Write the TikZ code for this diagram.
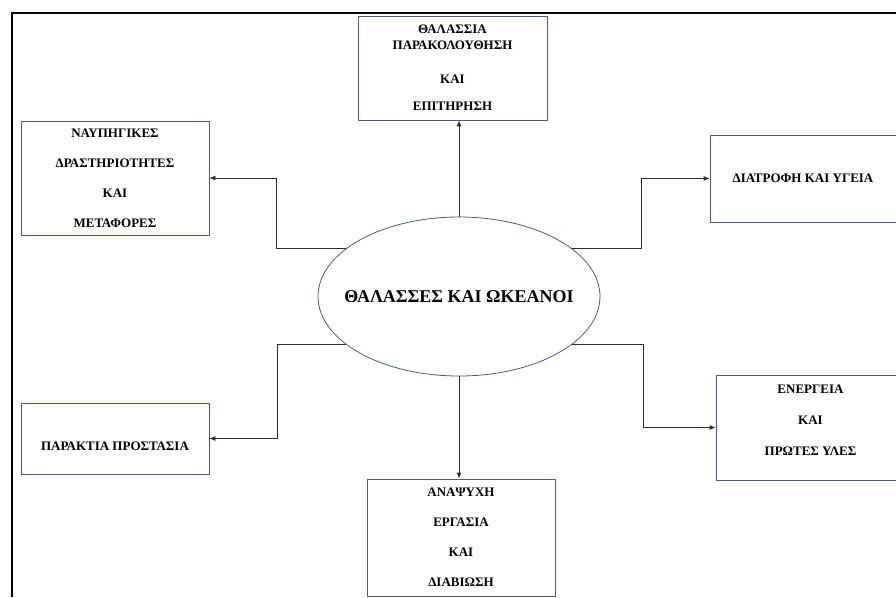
\documentclass[tikz,border=0pt]{standalone}
\usepackage{fontspec}
\setmainfont{Liberation Serif}
\usetikzlibrary{shapes.geometric,arrows.meta}
\definecolor{boxblue}{RGB}{68,94,140}
\definecolor{linegray}{RGB}{45,45,45}

\begin{document}
\begin{tikzpicture}[x=1pt,y=-1pt,
    topic/.style={rectangle,draw=boxblue,line width=0.8pt,inner sep=0pt},
    boxtext/.style={font=\bfseries\fontsize{13}{16}\selectfont,align=center,inner sep=0pt},
    link/.style={draw=linegray,line width=0.8pt,-{Latex[length=6pt,width=5pt]}}]

            \clip (0,0) rectangle (896,597);
            \draw[line width=2.5pt] (12,597) -- (12,13) -- (896,13);

            \node (ocean) at (459,296.5) [ellipse,draw=boxblue,line width=0.8pt,inner sep=0pt,minimum width=282pt,minimum height=159pt,font=\bfseries\fontsize{18}{20}\selectfont] {\makebox[0pt]{ΘΑΛΑΣΣΕΣ ΚΑΙ ΩΚΕΑΝΟΙ}};

            \node (monitor) at (452.5,68) [topic,minimum width=189pt,minimum height=104pt] {};
            \node (ship) at (115,178) [topic,minimum width=188pt,minimum height=114pt] {};
            \node (diet) at (807.5,178.5) [topic,minimum width=195pt,minimum height=87pt] {};
            \node (coast) at (115,438.5) [topic,minimum width=188pt,minimum height=71pt] {};
            \node (energy) at (810.5,427.5) [topic,minimum width=189pt,minimum height=105pt] {};
            \node (leisure) at (461,537.5) [topic,minimum width=188pt,minimum height=117pt] {};

            \node (monitortext) at (monitor.center) [boxtext] {ΘΑΛΑΣΣΙΑ\\ΠΑΡΑΚΟΛΟΥΘΗΣΗ\\[18pt]ΚΑΙ\\[11pt]ΕΠΙΤΗΡΗΣΗ};
            \node (shiptext) at (ship.center) [boxtext] {ΝΑΥΠΗΓΙΚΕΣ\\[14pt]ΔΡΑΣΤΗΡΙΟΤΗΤΕΣ\\[14pt]ΚΑΙ\\[14pt]ΜΕΤΑΦΟΡΕΣ};
            \node (diettext) at (diet.center) [boxtext,xshift=-4.5pt] {ΔΙΑΤΡΟΦΗ ΚΑΙ ΥΓΕΙΑ};
            \node (coasttext) at (coast.center) [boxtext,yshift=-7.5pt] {ΠΑΡΑΚΤΙΑ ΠΡΟΣΤΑΣΙΑ};
            \node (energytext) at (energy.center) [boxtext,yshift=7.5pt] {ΕΝΕΡΓΕΙΑ\\[15pt]ΚΑΙ\\[15pt]ΠΡΩΤΕΣ ΥΛΕΣ};
            \node (leisuretext) at (leisure.center) [boxtext] {ΑΝΑΨΥΧΗ\\[14pt]ΕΡΓΑΣΙΑ\\[14pt]ΚΑΙ\\[14pt]ΔΙΑΒΙΩΣΗ};

            \draw[link] (ocean.north) -- (ocean.north |- monitor.south);
            \draw[link] (ocean.south) -- (ocean.south |- leisure.north);
            \draw[link] (ocean.157) -- ++(-70,0) |- (ship.east);
            \draw[link] (ocean.203) -- ++(-69,0) |- (coast.east);
            \draw[link] (ocean.23) -- ++(69,0) |- (diet.west);
            \draw[link] (ocean.-23) -- ++(71,0) |- (energy.west);

        \end{tikzpicture}
\end{document}
